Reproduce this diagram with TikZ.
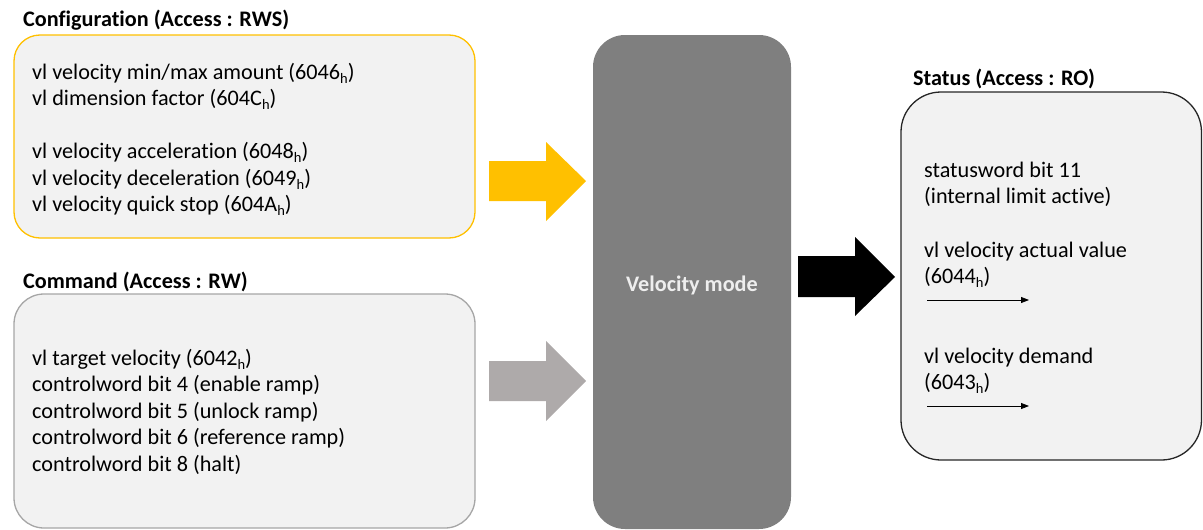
\documentclass[tikz,border=0pt]{standalone}
\usepackage{fontspec}
\setmainfont[Ligatures={NoCommon}]{Carlito}
\usetikzlibrary{arrows.meta}
\definecolor{boxfill}{HTML}{F2F2F2}
\definecolor{cfgline}{HTML}{FFC000}
\definecolor{cmdline}{HTML}{A6A6A6}
\definecolor{velfill}{HTML}{7F7F7F}
\definecolor{cmdarrow}{HTML}{AEAAAA}
\definecolor{statline}{HTML}{262626}
\definecolor{veltext}{HTML}{EEEEEE}
\newcommand{\subh}{\raisebox{-4pt}{\fontsize{14.5}{14.5}\selectfont h}}
\begin{document}
\begin{tikzpicture}[x=1pt,y=-1pt,
  txt/.style={anchor=base west,inner sep=0pt,font=\fontsize{22.2}{26}\selectfont},
  ttl/.style={anchor=base west,inner sep=0pt,font=\fontsize{22.2}{26}\selectfont\bfseries},
  panel/.style={rounded corners=#1,fill=boxfill,line width=1.3pt}]
\useasboundingbox (0,0) rectangle (1203,530);

% panels
\draw[panel=26pt,draw=cfgline] (14,35) rectangle (475,238);
\draw[panel=30pt,draw=cmdline] (14,294) rectangle (475,528);
\fill[velfill,rounded corners=32pt] (593,35) rectangle (791,529);
\draw[panel=40pt,draw=statline] (901,92) rectangle (1201.5,460);

% titles
\node[ttl] (tcfg) at (23,26) {Configuration (Access : RWS)};
\node[ttl] (tcmd) at (23,288) {Command (Access : RW)};
\node[ttl] (tst) at (913,85) {Status (Access : RO)};

% configuration text
\node[txt] (c1) at (32,79) {vl velocity min/max amount (6046\subh)};
\node[txt] (c2) at (32,105.5) {vl dimension factor (604C\subh)};
\node[txt] (c3) at (32,158.5) {vl velocity acceleration (6048\subh)};
\node[txt] (c4) at (32,185) {vl velocity deceleration (6049\subh)};
\node[txt] (c5) at (32,211.5) {vl velocity quick stop (604A\subh)};

% command text
\node[txt] (m1) at (32,365) {vl target velocity (6042\subh)};
\node[txt] (m2) at (32,391.5) {controlword bit 4 (enable ramp)};
\node[txt] (m3) at (32,418) {controlword bit 5 (unlock ramp)};
\node[txt] (m4) at (32,444.5) {controlword bit 6 (reference ramp)};
\node[txt] (m5) at (32,471) {controlword bit 8 (halt)};

% velocity mode
\node[anchor=base,inner sep=0pt,text=veltext,font=\fontsize{22.2}{26}\selectfont\bfseries] (vm) at (692,291) {Velocity mode};

% status text
\node[txt] (s1) at (924,177) {statusword bit 11};
\node[txt] (s2) at (924,203.5) {(internal limit active)};
\node[txt] (s3) at (924,257) {vl velocity actual value};
\node[txt] (s4) at (924,283.5) {(6044\subh)};
\node[txt] (s5) at (924,363) {vl velocity demand};
\node[txt] (s6) at (924,389.5) {(6043\subh)};

% small arrows
\coordinate (a1s) at (927,300);
\coordinate (a1e) at (1029,300);
\coordinate (a2s) at (927,406);
\coordinate (a2e) at (1029,406);
\draw[line width=0.8pt,-{Triangle[length=8pt,width=6pt]}] (a1s) -- (a1e);
\draw[line width=0.8pt,-{Triangle[length=8pt,width=6pt]}] (a2s) -- (a2e);

% block arrows
\fill[cfgline] (489,161) -- (546,161) -- (546,142) -- (586,181) -- (546,221) -- (546,201) -- (489,201) -- cycle;
\fill[cmdarrow] (489,361) -- (546,361) -- (546,341) -- (586,381) -- (546,421) -- (546,401) -- (489,401) -- cycle;
\fill[black] (798,256) -- (855,256) -- (855,237) -- (895,277) -- (855,316) -- (855,297) -- (798,297) -- cycle;
\end{tikzpicture}
\end{document}
